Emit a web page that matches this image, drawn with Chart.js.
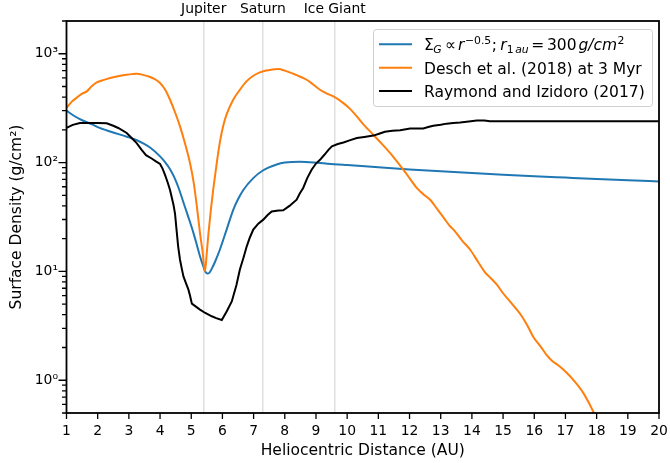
<!DOCTYPE html>
<html>
<head>
<meta charset="utf-8">
<script src="https://cdn.jsdelivr.net/npm/chart.js@4.4.1/dist/chart.umd.min.js"></script>
<style>
  html, body { margin: 0; padding: 0; background: #fff; }
  canvas { display: block; }
</style>
</head>
<body>
<canvas id="c" width="670" height="463"></canvas>
<script>
const FONT = "'DejaVu Sans', sans-serif";

// Power-law gas disc (Sigma_G ∝ r^-0.5, 300 g/cm^2 at 1 au) with a gap carved by Jupiter
const powerLawR = [1.0, 1.25, 1.5, 1.86, 2.0, 2.4, 2.93, 3.2, 3.46, 3.7,
  4.0, 4.16, 4.32, 4.45, 4.59, 4.75, 4.9, 5.07, 5.18,
  5.28, 5.38, 5.45, 5.52, 5.58, 5.66, 5.76, 5.92, 6.14, 6.35,
  6.5, 6.67, 6.99, 7.31, 7.74, 8.0, 8.49, 9.13, 9.72, 10,
  11, 12, 13, 14, 15, 16, 17, 18, 19, 20];
const powerLawSigma = [300, 268, 245, 222, 212, 193, 173, 163, 150, 136,
  114, 101, 87, 74, 59, 43, 32, 22.6, 17.5,
  13.8, 11.3, 10.0, 9.55, 9.7, 10.6, 12.2, 15.9, 24.5, 37,
  46, 56, 72, 85, 96, 100, 102, 99, 96, 95,
  90.5, 86.6, 83.2, 80.2, 77.5, 75, 72.8, 70.7, 68.8, 67.1];

// Desch et al. (2018) profile at 3 Myr
const deschR = [1.0, 1.1, 1.2, 1.33, 1.5, 1.65, 1.8, 1.97, 2.2, 2.4,
  2.65, 2.93, 3.1, 3.25, 3.45, 3.68, 3.85, 4.0, 4.16, 4.32,
  4.48, 4.64, 4.8, 4.96, 5.08, 5.18, 5.28, 5.36, 5.44, 5.5,
  5.55, 5.63, 5.71, 5.82, 5.92, 6.03, 6.14, 6.35, 6.56, 6.78,
  6.99, 7.2, 7.42, 7.6, 7.79, 8.0, 8.27, 8.5, 8.7, 8.9,
  9.13, 9.35, 9.56, 9.88, 10.1, 10.31, 10.55, 10.84, 11.1, 11.38,
  11.6, 11.8, 12.0, 12.23, 12.45, 12.66, 12.9, 13.1, 13.3, 13.41,
  13.7, 13.94, 14.2, 14.42, 14.6, 14.8, 15.0, 15.22, 15.4, 15.6,
  15.8, 15.97, 16.2, 16.4, 16.56, 16.8, 17.04, 17.3, 17.57, 17.75,
  17.9, 18.0];
const deschSigma = [318, 345, 370, 395, 430, 451, 500, 545, 575, 598,
  622, 641, 650, 655, 640, 611, 580, 538, 470, 378,
  290, 215, 150, 99, 65, 39.6, 22.6, 15.5, 10.0, 15,
  22, 37, 58, 100, 155, 220, 280, 380, 467, 560,
  628, 675, 703, 718, 723, 700, 655, 615, 577, 525,
  467, 430, 405, 352, 310, 266, 220, 180, 150, 122,
  102, 86, 72, 58.5, 51, 45.6, 37, 31, 26, 24.2,
  19, 15.9, 12.2, 9.8, 8.7, 7.57, 6.3, 5.31, 4.6, 3.87,
  3.1, 2.5, 2.05, 1.7, 1.52, 1.35, 1.17, 0.97, 0.766, 0.62,
  0.508, 0.44];

// Raymond and Izidoro (2017) profile
const raymondR = [1.0, 1.2, 1.43, 1.7, 2.0, 2.29, 2.5, 2.66, 2.93, 3.09,
  3.25, 3.41, 3.55, 3.73, 3.88, 4.0, 4.08, 4.16, 4.25, 4.32,
  4.43, 4.48, 4.53, 4.58, 4.64, 4.7, 4.75, 4.83, 4.91, 4.96,
  5.02, 5.15, 5.28, 5.45, 5.66, 5.8, 5.98, 6.14, 6.3, 6.45,
  6.56, 6.68, 6.78, 6.88, 6.99, 7.15, 7.31, 7.45, 7.58, 7.8,
  7.95, 8.15, 8.38, 8.48, 8.59, 8.72, 8.86, 9.0, 9.13, 9.27,
  9.4, 9.51, 9.7, 9.88, 10.1, 10.31, 10.55, 10.84, 11.0, 11.21,
  11.45, 11.7, 12.02, 12.44, 12.6, 12.76, 13.0, 13.19, 13.4, 13.62,
  13.9, 14.16, 14.4, 14.58, 20.0];
const raymondSigma = [208, 222, 231, 231, 231, 230, 218, 208, 187, 168,
  151, 131, 117, 109, 102, 97, 88, 77, 65, 56,
  41, 34, 24, 17, 12.8, 10.5, 9.0, 7.8, 6.8, 6.0,
  5.06, 4.75, 4.46, 4.15, 3.87, 3.72, 3.58, 4.3, 5.3, 7.5,
  10.4, 13.5, 17, 20.5, 24.2, 27.5, 29.9, 33, 35.6, 36.2,
  36.4, 40, 45.6, 52, 58.5, 72, 86, 98, 106, 118,
  131, 141, 148, 153, 161, 168, 172, 177, 183, 192,
  196, 198, 206, 206, 212, 218, 223, 228, 231, 234,
  239, 244, 243, 240, 240];

// Planet locations marked along the top edge
const planetNames = ['Jupiter', 'Saturn', 'Ice Giant'];
const planetR = [5.4, 7.3, 9.6];

// Axis ticks
const xTickValues = [1, 2, 3, 4, 5, 6, 7, 8, 9, 10, 11, 12, 13, 14, 15, 16, 17, 18, 19, 20];
const yDecades = [0.1, 1, 10, 100, 1000];
const yMajorLabels = { 1: '10\u2070', 10: '10\u00b9', 100: '10\u00b2', 1000: '10\u00b3' };
const Y_MIN = 0.5, Y_MAX = 2000;

const seriesColors = ['#1f77b4', '#ff7f0e', '#000000'];

// Log-axis tick positions: 1..9 within each decade, kept inside the axis range
const yTickValues = [];
yDecades.forEach(d => {
  for (let k = 1; k <= 9; k++) {
    const v = +(k * d).toPrecision(6);
    if (v >= Y_MIN && v <= Y_MAX) yTickValues.push(v);
  }
});

const toPoints = (xs, ys) => xs.map((x, i) => ({ x, y: ys[i] }));

// Keep the plot box fixed: no extra room for overhanging end labels
const noOverhang = s => { s.paddingLeft = 0; s.paddingRight = 0; s.paddingTop = 0; s.paddingBottom = 0; };

// Axes frame and outward tick marks
const framePlugin = {
  id: 'frame',
  afterDatasetsDraw(chart) {
    const { ctx, chartArea: a, scales } = chart;
    ctx.save();
    ctx.strokeStyle = '#000';
    ctx.lineWidth = 1.3;
    ctx.beginPath();
    xTickValues.forEach(v => {
      const px = scales.x.getPixelForValue(v);
      ctx.moveTo(px, a.bottom);
      ctx.lineTo(px, a.bottom + 6);
    });
    scales.y.ticks.forEach(t => {
      const py = scales.y.getPixelForValue(t.value);
      const major = Math.abs(Math.log10(t.value) - Math.round(Math.log10(t.value))) < 1e-9;
      ctx.moveTo(a.left, py);
      ctx.lineTo(a.left - (major ? 8 : 4.5), py);
    });
    ctx.stroke();
    ctx.lineWidth = 1.8;
    ctx.strokeRect(a.left, a.top, a.right - a.left, a.bottom - a.top);
    ctx.restore();
  }
};

// Legend box inside the plot, with the mathematical label set in mixed styles
const legendRows = [
  [
    { t: '\u03a3' },
    { t: 'G', it: true, sc: 0.7, dy: 0.2, pre: -0.04 },
    { t: '\u221d', pre: 0.2 },
    { t: 'r', it: true, pre: 0.15 },
    { t: '\u22120.5', sc: 0.7, dy: -0.42, pre: 0.03 },
    { t: ';', pre: 0.03 },
    { t: 'r', it: true, pre: 0.22 },
    { t: '1', sc: 0.7, dy: 0.2, pre: 0.0 },
    { t: 'au', it: true, sc: 0.7, dy: 0.2, pre: 0.1 },
    { t: '=', pre: 0.17 },
    { t: '300', pre: 0.17 },
    { t: 'g/cm', it: true, pre: 0.12 },
    { t: '2', sc: 0.7, dy: -0.42, pre: 0.03 }
  ],
  [{ t: 'Desch et al. (2018) at 3 Myr' }],
  [{ t: 'Raymond and Izidoro (2017)' }]
];

function drawRich(ctx, x, baseline, parts, size) {
  let cx = x;
  parts.forEach(p => {
    const s = size * (p.sc || 1);
    cx += (p.pre || 0) * size;
    ctx.font = (p.it ? 'italic ' : '') + s + 'px ' + FONT;
    ctx.fillText(p.t, cx, baseline + (p.dy || 0) * size);
    cx += ctx.measureText(p.t).width;
  });
  return cx;
}

const legendPlugin = {
  id: 'insetLegend',
  afterDraw(chart) {
    const { ctx } = chart;
    const box = { x: 373, y: 29, w: 279, h: 77 };
    ctx.save();
    ctx.beginPath();
    ctx.roundRect(box.x + 0.5, box.y + 0.5, box.w, box.h, 3);
    ctx.fillStyle = 'rgba(255,255,255,0.8)';
    ctx.fill();
    ctx.strokeStyle = '#d0d0d0';
    ctx.lineWidth = 1;
    ctx.stroke();
    ctx.fillStyle = '#000';
    ctx.textBaseline = 'alphabetic';
    ctx.textAlign = 'left';
    legendRows.forEach((row, i) => {
      const ly = 44.3 + i * 23.4;
      ctx.strokeStyle = seriesColors[i];
      ctx.lineWidth = 2;
      ctx.beginPath();
      ctx.moveTo(379, ly);
      ctx.lineTo(412, ly);
      ctx.stroke();
      drawRich(ctx, 424, ly + 5.8, row, 15.5);
    });
    ctx.restore();
  }
};

const tickFont = { family: FONT, size: 13.9 };
const titleFont = { family: FONT, size: 15.5 };

new Chart(document.getElementById('c'), {
  type: 'line',
  data: {
    datasets: [
      {
        label: 'Sigma_G power law',
        data: toPoints(powerLawR, powerLawSigma),
        borderColor: seriesColors[0], borderWidth: 2, pointRadius: 0,
        cubicInterpolationMode: 'monotone', fill: false, order: 3
      },
      {
        label: 'Desch et al. (2018) at 3 Myr',
        data: toPoints(deschR, deschSigma),
        borderColor: seriesColors[1], borderWidth: 2, pointRadius: 0,
        cubicInterpolationMode: 'monotone', fill: false, order: 2
      },
      {
        label: 'Raymond and Izidoro (2017)',
        data: toPoints(raymondR, raymondSigma),
        borderColor: seriesColors[2], borderWidth: 2, pointRadius: 0,
        tension: 0, fill: false, order: 1
      }
    ]
  },
  options: {
    responsive: false,
    animation: false,
    devicePixelRatio: 1,
    layout: { padding: { left: 0, right: 11, top: 0, bottom: 0 } },
    plugins: { legend: { display: false }, tooltip: { enabled: false } },
    scales: {
      x: {
        type: 'linear', position: 'bottom', min: 1, max: 20,
        afterBuildTicks: s => { s.ticks = xTickValues.map(v => ({ value: v })); },
        ticks: { autoSkip: false, maxRotation: 0, color: '#000', font: tickFont, padding: 10.4 },
        grid: { display: false, drawTicks: false },
        border: { display: false },
        title: { display: true, text: 'Heliocentric Distance (AU)', color: '#000', font: titleFont, padding: { top: 0, bottom: 3 } },
        afterFit: s => { s.height = 50; noOverhang(s); }
      },
      planets: {
        type: 'linear', position: 'top', min: 1, max: 20,
        afterBuildTicks: s => { s.ticks = planetR.map(v => ({ value: v })); },
        ticks: { autoSkip: false, maxRotation: 0, color: '#000', font: tickFont, padding: 3,
          callback: (v, i) => planetNames[i] },
        grid: { display: true, drawOnChartArea: true, drawTicks: false, color: '#e0e0e0', lineWidth: 1.5 },
        border: { display: false },
        afterFit: s => { s.height = 21; noOverhang(s); }
      },
      y: {
        type: 'logarithmic', position: 'left', min: Y_MIN, max: Y_MAX,
        afterBuildTicks: s => { s.ticks = yTickValues.map(v => ({ value: v })); },
        ticks: { autoSkip: false, color: '#000', font: tickFont, padding: 8.5,
          callback: v => yMajorLabels[v] || '' },
        grid: { display: false, drawTicks: false },
        border: { display: false },
        title: { display: true, text: 'Surface Density (g/cm\u00b2)', color: '#000', font: titleFont, padding: { top: 8, bottom: 0 } },
        afterFit: s => { s.width = 66.5; noOverhang(s); }
      }
    }
  },
  plugins: [framePlugin, legendPlugin]
});
</script>
</body>
</html>
